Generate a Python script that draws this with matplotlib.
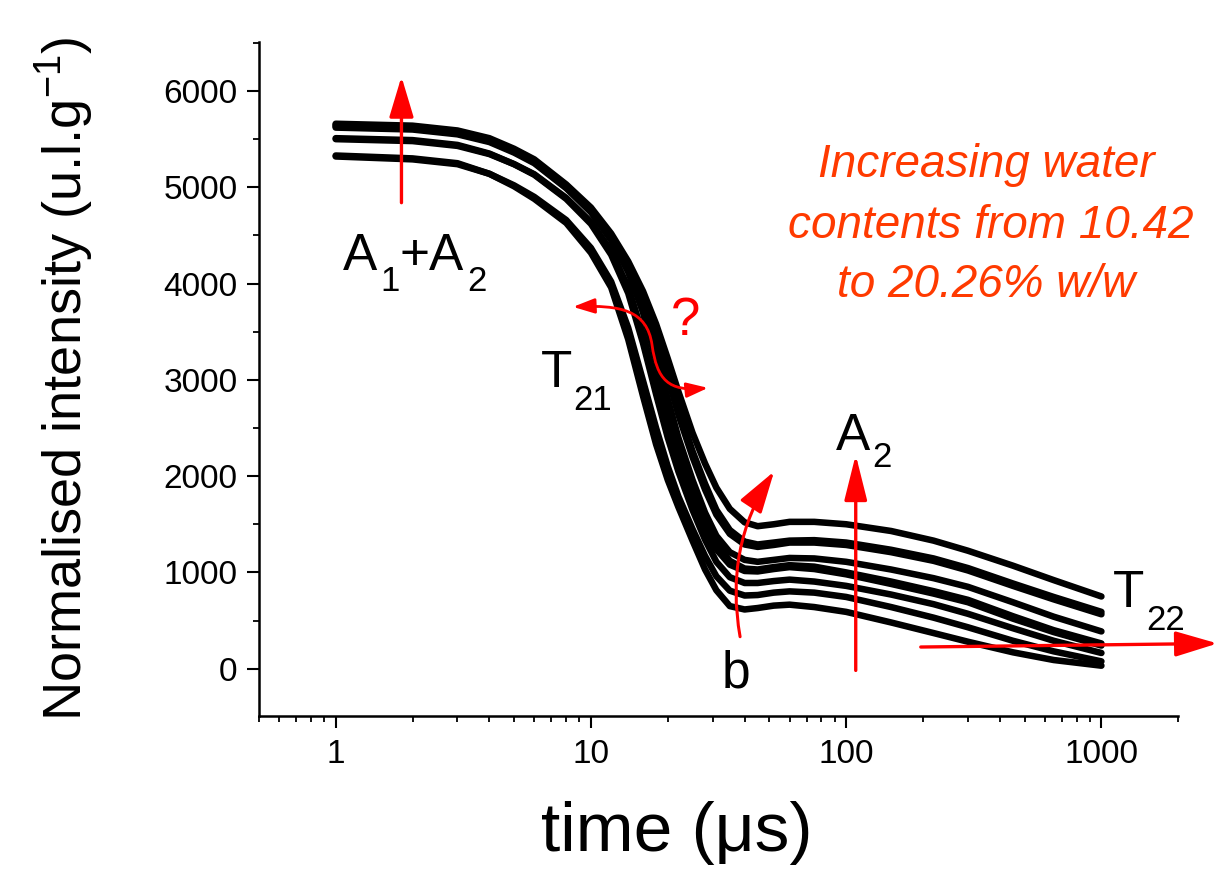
import matplotlib
matplotlib.use("Agg")
import matplotlib.pyplot as plt
from matplotlib.patches import FancyArrowPatch
from matplotlib.path import Path
from matplotlib.ticker import MultipleLocator, LogLocator, NullFormatter

plt.rcParams['font.family'] = ['Liberation Sans', 'DejaVu Sans']
plt.rcParams['mathtext.fontset'] = 'custom'
plt.rcParams['mathtext.rm'] = 'Liberation Sans'
plt.rcParams['mathtext.it'] = 'Liberation Sans:italic'
plt.rcParams['mathtext.default'] = 'regular'

# time axis (microseconds), shared by all decays
time_us = [1, 2, 3, 4, 5, 6, 8, 10, 12, 14, 16, 18, 20, 22, 25, 28, 31, 35,
           40, 45, 52, 60, 75, 100, 150, 220, 300, 450, 650, 1000]

# normalised intensity, lowest to highest water content
s1 = [5330, 5300, 5250, 5140, 5010, 4880, 4630, 4320, 3960, 3420, 2830, 2330,
      1960, 1680, 1330, 1030, 815, 650, 615, 630, 655, 665, 640, 590, 480,
      370, 280, 170, 90, 31]
s2 = [5320, 5290, 5240, 5140, 5020, 4900, 4660, 4370, 4020, 3540, 2990, 2500,
      2100, 1790, 1450, 1170, 960, 810, 760, 765, 790, 803, 790, 745, 640,
      530, 430, 290, 180, 76]
s3 = [5510, 5490, 5440, 5350, 5240, 5130, 4880, 4620, 4300, 3900, 3380, 2850,
      2400, 2050, 1650, 1340, 1110, 950, 890, 890, 910, 925, 905, 860, 770,
      670, 570, 420, 290, 163]
s4 = [5500, 5480, 5430, 5345, 5240, 5135, 4890, 4640, 4340, 3960, 3470, 2960,
      2520, 2170, 1770, 1460, 1240, 1080, 1015, 1010, 1035, 1055, 1035, 980,
      880, 780, 690, 520, 380, 240]
s5 = [5640, 5620, 5570, 5490, 5380, 5270, 5010, 4760, 4470, 4130, 3700, 3200,
      2720, 2320, 1880, 1540, 1300, 1120, 1040, 1030, 1055, 1075, 1060, 1000,
      905, 805, 715, 545, 400, 262]
s6 = [5620, 5600, 5550, 5470, 5360, 5250, 4990, 4740, 4450, 4120, 3720, 3260,
      2800, 2400, 1960, 1620, 1380, 1210, 1130, 1110, 1130, 1150, 1145, 1110,
      1030, 940, 850, 690, 540, 387]
s7 = [5650, 5630, 5580, 5500, 5390, 5280, 5020, 4775, 4500, 4190, 3840, 3440,
      3020, 2640, 2200, 1860, 1600, 1400, 1290, 1265, 1285, 1310, 1310, 1285,
      1210, 1120, 1020, 860, 720, 565]
s8 = [5630, 5610, 5560, 5480, 5370, 5260, 5000, 4760, 4490, 4190, 3860, 3480,
      3080, 2710, 2260, 1920, 1650, 1440, 1320, 1290, 1310, 1330, 1335, 1310,
      1235, 1145, 1045, 885, 745, 590]
s9 = [5660, 5640, 5590, 5510, 5400, 5290, 5030, 4790, 4520, 4230, 3920, 3580,
      3220, 2880, 2450, 2130, 1880, 1660, 1520, 1480, 1500, 1525, 1525, 1500,
      1430, 1330, 1225, 1070, 920, 750]
series = [s1, s2, s3, s4, s5, s6, s7, s8, s9]

x_ticks = [1, 10, 100, 1000]
y_ticks = [0, 1000, 2000, 3000, 4000, 5000, 6000]

RED = '#ff0000'
ORANGE = '#ff3a00'

fig = plt.figure(figsize=(12.21, 8.73), dpi=100)
ax = fig.add_axes([0.212, 0.180, 0.753, 0.772])

for s in series:
    ax.plot(time_us, s, color='black', lw=4.7,
            solid_capstyle='round', solid_joinstyle='round')

ax.set_xscale('log')
ax.set_xlim(0.5, 2000)
ax.set_ylim(-490, 6510)

for side in ['top', 'right']:
    ax.spines[side].set_visible(False)
for side in ['left', 'bottom']:
    ax.spines[side].set_linewidth(1.8)

ax.set_xticks(x_ticks)
ax.set_xticklabels([str(v) for v in x_ticks])
ax.xaxis.set_minor_locator(LogLocator(base=10, subs=range(2, 10)))
ax.xaxis.set_minor_formatter(NullFormatter())
ax.set_yticks(y_ticks)
ax.set_yticklabels([str(v) for v in y_ticks])
ax.yaxis.set_minor_locator(MultipleLocator(500))

ax.tick_params(which='major', direction='out', length=8.5, width=1.5,
               labelsize=24)
ax.tick_params(axis='x', which='major', pad=8)
ax.tick_params(axis='y', which='major', pad=7)
ax.tick_params(which='minor', direction='out', length=4.5, width=1.3)

ax.set_ylabel('Normalised intensity (u.l.g$^{-1}$)', fontsize=39)
ax.yaxis.set_label_coords(-0.177, 0.5)
ax.set_xlabel('time (\u03bcs)', fontsize=50)
ax.xaxis.set_label_coords(0.455, -0.127)


def frac(px, py):
    # position given in pixels of the figure, turned into axes fraction
    return ((px - 259) / 919.0, (716 - py) / 674.0)


def label(px, py, s, color='black', size=37, **kw):
    fx, fy = frac(px, py)
    ax.text(fx, fy, s, transform=ax.transAxes, fontsize=size, color=color,
            va='baseline', **kw)


# labels with lowered subscripts, as in the original figure
label(343, 270, 'A')
label(380, 291, '1', size=25)
label(400, 270, '+A')
label(467, 291, '2', size=25)
label(541, 387, 'T')
label(573, 410, '21', size=25)
label(836, 450, 'A')
label(872, 467, '2', size=25)
label(1113, 607, 'T')
label(1146, 630, '22', size=25)
label(722, 688, 'b')
label(671, 335, '?', color=RED, size=38)

label(986, 177, 'Increasing water', color=ORANGE, size=33, ha='center', style='italic')
label(991, 238, 'contents from 10.42', color=ORANGE, size=33, ha='center', style='italic')
label(986, 297, 'to 20.26% w/w', color=ORANGE, size=33, ha='center', style='italic')


def arrow(tip, tail, scale=25, hw=0.3, lw=2.4, rad=0.0):
    ann = ax.annotate('', xy=tip, xytext=tail, annotation_clip=False,
                      arrowprops=dict(arrowstyle='-|>,head_length=1,head_width=%g' % hw,
                                      mutation_scale=scale, color=RED, lw=lw,
                                      shrinkA=0, shrinkB=0,
                                      connectionstyle='arc3,rad=%g' % rad))
    ann.set_zorder(5)


arrow((1.81, 6150), (1.81, 4840))
arrow((109, 2222), (109, -18), scale=28, hw=0.25)
arrow((2851, 262), (196, 225), scale=26, hw=0.3)
arrow((52.2, 2048), (38.4, 332), scale=26, hw=0.3, lw=2.2, rad=-0.2)

# S-shaped double arrow near T21
pts = [frac(573, 307), frac(620, 305), frac(647, 310), frac(652, 345),
       frac(657, 380), frac(668, 392), frac(708, 388)]
codes = [Path.MOVETO] + [Path.CURVE4] * 6
s_path = Path(pts, codes)
ax.add_patch(FancyArrowPatch(path=s_path, transform=ax.transAxes,
                             arrowstyle='<|-|>,head_length=13,head_width=4.5',
                             mutation_scale=1, color=RED, lw=2.0, zorder=5))

fig.savefig('out.png', dpi=100)
